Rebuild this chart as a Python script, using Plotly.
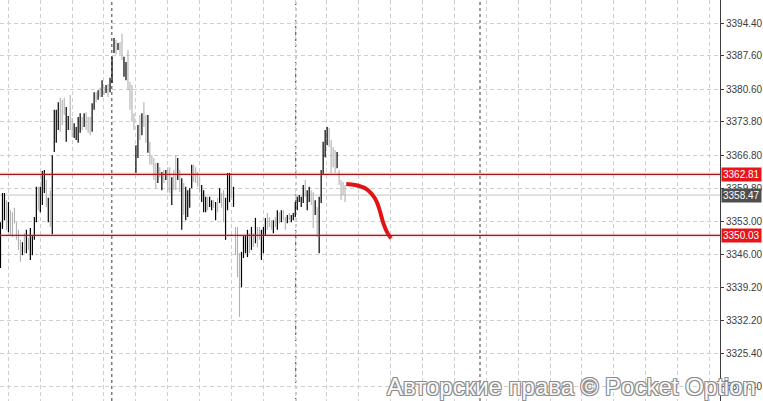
import plotly.graph_objects as go

# ---- data ----
# bar direction: 1 = rising (black), 0 = falling (grey)
direction = [1,1,1,0,1,0,0,0,0,0, 0,1,0,1,0,1,1,1,1,0, 1,1,1,0,1,0,1,1,1,1,
             0,0,0,1,1,0,0,1,1,1, 1,0,1,0,0,0,1,1,0,1, 0,1,0,1,0,1,1,1,0,1,
             0,0,1,1,0,0,0,0,1,1, 0,1,0,0,1,0,0,0,0,1, 0,1,0,1,0,0,1,0,0,1,
             0,1,0,1,1,1,1,0,0,0, 0,1,1,1,0,1,1,0,1,0, 1,0,0,1,1,1,0,1,0,0,
             0,1,1,1,1,0,1,0,1,0, 0,1,1,1,0,0,0,1,0,1, 0,1,0,0,1,0,1,1,1,1,
             1,1,1,0,1,1,0,0,1,0, 1,1,1,1,1,0,0,0,0,1, 0,0,0,0]
highs = [3352.8,3358.9,3358.9,3357.4,3357.0,3355.3,3354.9,3355.8,3352.8,3351.2,
         3349.1,3348.6,3350.5,3351.2,3349.5,3351.6,3350.1,3353.9,3360.2,3360.2,
         3360.2,3363.5,3363.7,3361.6,3357.9,3359.5,3366.8,3376.3,3376.3,3377.9,
         3378.8,3378.4,3378.8,3376.9,3375.0,3379.4,3374.6,3373.5,3372.7,3374.8,
         3375.6,3374.8,3375.6,3375.8,3374.8,3374.8,3377.7,3380.0,3380.0,3380.4,
         3380.9,3382.5,3381.1,3381.5,3381.7,3383.0,3387.4,3391.3,3390.9,3390.3,
         3390.5,3392.2,3387.4,3386.3,3388.8,3382.1,3381.5,3375.6,3368.9,3373.1,
         3375.2,3375.6,3377.9,3375.2,3375.2,3369.6,3366.8,3366.2,3365.2,3365.2,
         3364.3,3363.3,3363.7,3363.7,3364.3,3364.3,3362.2,3363.7,3366.8,3366.2,
         3363.7,3362.0,3361.0,3360.2,3359.5,3359.9,3364.8,3364.8,3364.3,3363.3,
         3362.2,3360.6,3359.5,3358.1,3358.1,3358.1,3357.4,3357.4,3357.0,3357.9,
         3359.9,3358.9,3359.5,3357.9,3363.1,3363.1,3363.1,3360.2,3351.8,3351.8,
         3346.3,3346.6,3350.1,3350.1,3351.2,3350.5,3351.8,3350.5,3353.7,3351.8,
         3351.8,3351.2,3351.8,3353.7,3354.7,3353.9,3353.2,3353.2,3353.9,3355.3,
         3354.9,3355.3,3355.3,3353.9,3354.3,3354.7,3354.3,3354.7,3357.0,3358.1,
         3358.5,3358.1,3360.6,3361.6,3359.5,3360.2,3359.5,3359.1,3357.4,3356.0,
         3358.1,3363.7,3369.6,3372.1,3372.7,3372.5,3370.0,3368.5,3367.9,3367.5,
         3363.7,3361.6,3361.2,3360.6]
lows = [3343.2,3351.4,3353.2,3351.2,3350.7,3350.1,3349.7,3352.6,3349.1,3347.0,
        3344.5,3345.9,3346.3,3346.3,3347.0,3344.9,3345.9,3349.1,3352.8,3355.3,
        3354.9,3356.4,3358.9,3356.0,3352.8,3351.8,3350.3,3367.5,3369.4,3372.1,
        3371.7,3373.1,3375.2,3369.6,3372.1,3372.1,3370.6,3370.4,3370.0,3369.4,
        3371.5,3372.1,3372.7,3372.1,3371.5,3371.0,3371.7,3376.3,3377.9,3378.4,
        3379.0,3379.0,3379.4,3379.8,3379.0,3380.0,3381.9,3388.2,3387.8,3388.8,
        3387.8,3386.7,3383.2,3382.5,3380.4,3376.3,3373.8,3372.1,3363.1,3366.2,
        3370.0,3371.0,3372.7,3369.4,3367.3,3364.8,3364.8,3361.6,3359.9,3361.0,
        3362.2,3359.5,3361.0,3361.6,3359.1,3358.9,3356.4,3359.5,3359.5,3361.6,
        3359.1,3351.2,3354.3,3353.2,3353.9,3355.8,3359.9,3361.2,3361.0,3360.2,
        3359.1,3357.0,3354.9,3354.9,3355.3,3356.0,3355.3,3355.8,3353.2,3354.9,
        3356.8,3355.8,3352.8,3349.1,3355.3,3357.0,3357.9,3356.0,3345.9,3341.3,
        3333.0,3339.2,3345.3,3346.3,3345.5,3346.3,3347.0,3347.6,3348.4,3347.6,
        3349.1,3344.9,3346.3,3350.1,3351.2,3351.8,3351.2,3350.5,3351.8,3351.2,
        3352.6,3352.8,3353.2,3351.2,3352.6,3353.2,3352.8,3353.2,3353.9,3355.3,
        3357.0,3356.0,3356.8,3358.1,3355.3,3357.0,3356.4,3351.6,3354.3,3349.7,
        3346.3,3356.8,3362.7,3366.4,3368.9,3368.5,3363.1,3364.3,3363.1,3364.1,
        3360.6,3357.4,3358.5,3357.0]

price_ticks = [3394.40, 3387.60, 3380.60, 3373.80, 3366.80, 3359.80,
               3353.00, 3346.00, 3339.20, 3332.20, 3325.40, 3318.40]
levels = [3362.81, 3350.03]
current_price = 3358.47
separators = [55.9, 148.25, 240.75]          # period separators (bar index)
arrow_x = [173.6, 178.1, 183.1, 186.4, 188.9, 190.6, 192.25, 194.4, 196.1]
arrow_y = [3360.78, 3360.57, 3359.88, 3358.69, 3357.07, 3354.98, 3352.56, 3350.46, 3349.42]
watermark = "Авторские права © Pocket Option"

# ---- build bar segments ----
ux, uy, dx, dy = [], [], [], []
for i, (d, h, l) in enumerate(zip(direction, highs, lows)):
    if d:
        ux += [i, i, None]; uy += [l, h, None]
    else:
        dx += [i, i, None]; dy += [l, h, None]

fig = go.Figure()
fig.add_trace(go.Scatter(x=dx, y=dy, mode="lines", line=dict(color="#b0b0b0", width=1.1),
                         hoverinfo="skip", showlegend=False))
fig.add_trace(go.Scatter(x=ux, y=uy, mode="lines", line=dict(color="#000000", width=1.2),
                         hoverinfo="skip", showlegend=False))
fig.add_trace(go.Scatter(x=arrow_x, y=arrow_y, mode="lines",
                         line=dict(color="#e01414", width=4, shape="spline"),
                         hoverinfo="skip", showlegend=False))

shapes = []
for s in separators:
    shapes.append(dict(type="line", xref="x", yref="paper", x0=s, x1=s, y0=0, y1=1,
                       line=dict(color="#3a3a3a", width=1, dash="3px,3px"), layer="below"))
shapes.append(dict(type="line", xref="paper", yref="y", x0=0, x1=1,
                   y0=current_price, y1=current_price,
                   line=dict(color="#c4c4c4", width=1), layer="below"))
for lv in levels:
    shapes.append(dict(type="line", xref="paper", yref="y", x0=0, x1=1, y0=lv, y1=lv,
                       line=dict(color="rgba(235,110,110,0.16)", width=4), layer="above"))
    shapes.append(dict(type="line", xref="paper", yref="y", x0=0, x1=1, y0=lv, y1=lv,
                       line=dict(color="#a81616", width=1.3), layer="above"))

annotations = []
for lv, bg in [(levels[0], "#e8141a"), (current_price, "#4e4e4e"), (levels[1], "#e8141a")]:
    annotations.append(dict(xref="paper", yref="y", x=1, y=lv, xanchor="left", yanchor="middle",
                            xshift=1, text=f"{lv:.2f}", showarrow=False, bgcolor=bg,
                            borderpad=1,
                            font=dict(family="Liberation Sans, Arial", size=10, color="#ffffff")))
annotations.append(dict(xref="paper", yref="paper", x=1.0525, y=0.037, xanchor="right",
                        yanchor="middle", text=watermark, showarrow=False,
                        font=dict(family="Liberation Sans, Arial", size=24, color="#fafafa",
                                  shadow="-1px -1px 0 #8c8c8c, 1px -1px 0 #8c8c8c, "
                                         "-1px 1px 0 #8c8c8c, 1px 1px 0 #8c8c8c")))

fig.update_layout(
    width=763, height=401,
    margin=dict(l=0, r=40, t=0, b=0),
    paper_bgcolor="#ffffff", plot_bgcolor="#ffffff",
    shapes=shapes, annotations=annotations,
    xaxis=dict(range=[-0.25, 361.25], showticklabels=False, ticks="", zeroline=False,
               showgrid=True, tick0=3.9, dtick=16, gridcolor="#cfcfcf",
               griddash="4px,3px", gridwidth=1, showline=False, fixedrange=True),
    yaxis=dict(range=[3315.4, 3399.27], side="right", tickvals=price_ticks,
               tickformat=".2f", showline=True, linecolor="#3c3c3c", linewidth=1,
               ticks="outside", ticklen=3, tickcolor="#3c3c3c",
               tickfont=dict(family="Liberation Sans, Arial", size=10, color="#3c3c3c"),
               showgrid=True, gridcolor="#cfcfcf", griddash="4px,3px", gridwidth=1,
               zeroline=False, fixedrange=True),
)

fig.write_html("out.html", config={"displayModeBar": False},
               post_script="document.body.style.margin='0';document.body.style.padding='0';")
